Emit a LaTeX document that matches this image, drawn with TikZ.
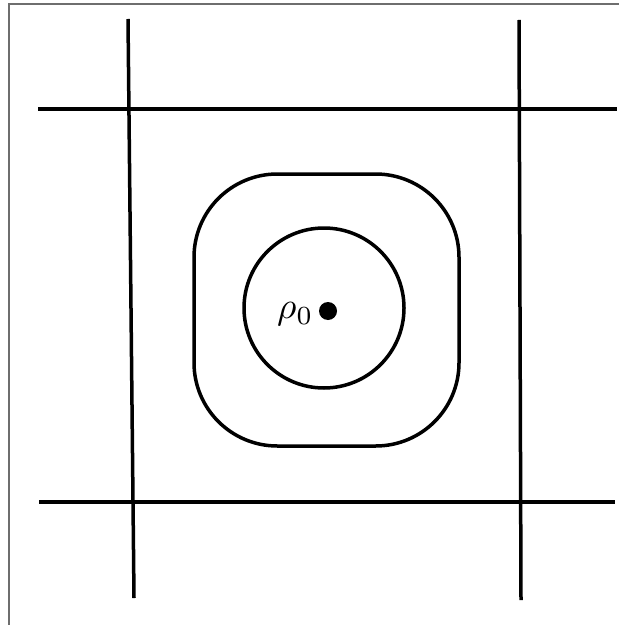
\documentclass[tikz,border=0pt]{standalone}
\usepackage{tikz}
\usetikzlibrary{positioning}
\definecolor{frameGray}{HTML}{6E6E6E}

\begin{document}
\begin{tikzpicture}[
  x=0.3pt, y=-0.3pt,
  grid/.style={line width=1.05pt, black},
  contour/.style={line width=1.05pt, black},
  frameline/.style={line width=0.35pt, frameGray},
]
\useasboundingbox (0,0) rectangle (619,625);

% Frame (left and top only)
\draw[frameline] (9,625) -- (9,4) -- (619,4);

% Grid lines
\draw[grid] (128,19) -- (134,598);
\draw[grid] (519,20) -- (521,600);
\draw[grid] (38,109) -- (617,109);
\draw[grid] (39,502) -- (615,502);

% Level sets around the point
\draw[contour, rounded corners=25pt] (194,174) rectangle (459,446);
\draw[contour] (324,308) circle [radius=80];

% Point and its label
\fill (328,311) circle [radius=9] coordinate (p0);
\node[anchor=east, inner sep=0pt, scale=1.12] (p0label) at (314,314) {$\rho_0$};

\end{tikzpicture}
\end{document}
